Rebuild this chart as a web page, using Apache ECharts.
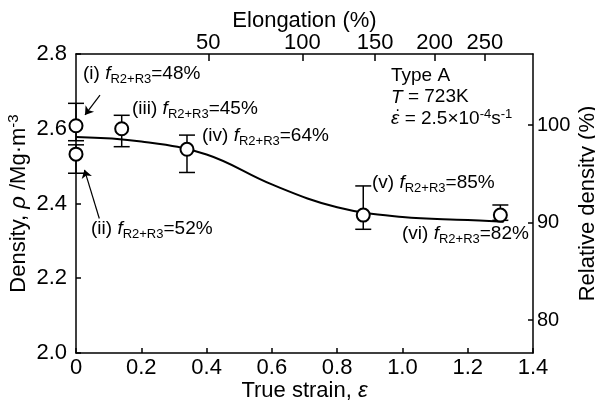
<!DOCTYPE html>
<html>
<head>
<meta charset="utf-8">
<script src="https://cdn.jsdelivr.net/npm/echarts@6/dist/echarts.min.js"></script>
<style>
  html, body { margin: 0; padding: 0; background: #fff; }
  #main { width: 595px; height: 402px; }
</style>
</head>
<body>
<div id="main"></div>
<script>
// 数据
const strain = [0, 0, 0.14, 0.34, 0.88, 1.30];           // 真应变
const density = [2.608, 2.532, 2.600, 2.545, 2.369, 2.369]; // 密度
const errLow = [2.568, 2.481, 2.552, 2.483, 2.331, 2.355];
const errHigh = [2.668, 2.557, 2.636, 2.583, 2.447, 2.396];

// 拟合曲线
const curveStrain = [0, 0.2, 0.4, 0.6, 0.8, 1.0, 1.2, 1.31];
const curveDensity = [2.578, 2.566, 2.531, 2.451, 2.390, 2.364, 2.356, 2.351];

// 刻度
const elongationTicks = [50, 100, 150, 200, 250];
const relDensityTicks = [80, 90, 100];
const rho0 = 2.61; // 100% 对应的密度

const font = 'Liberation Sans, Arial, sans-serif';

var chart = echarts.init(document.getElementById('main'));

const axisLine = { show: true, onZero: false, lineStyle: { color: '#000', width: 1.5 } };
const tick = { show: true, inside: true, length: 5, lineStyle: { color: '#000', width: 1.5 } };
const tickLabel = { color: '#000', fontSize: 22, fontFamily: font };
const rich = {
  it: { fontStyle: 'italic', fontSize: 19, fontFamily: font, color: '#000' },
  sub: { fontSize: 13, fontFamily: font, color: '#000', verticalAlign: 'bottom', padding: [12, 0, 0, 0] },
  sup: { fontSize: 13, fontFamily: font, color: '#000', verticalAlign: 'top', padding: [0, 0, 10, 0] }
};

// 注释文字
function note(left, top, text) {
  return {
    type: 'text', left: left, top: top, z: 100,
    style: { text: text, fontSize: 19, fontFamily: font, fill: '#000', rich: rich }
  };
}

const option = {
  animation: false,
  backgroundColor: '#fff',
  grid: { left: 76, right: 62, top: 54, bottom: 49, outerBoundsMode: 'none' },
  xAxis: [
    {
      type: 'value', position: 'bottom', min: 0, max: 1.4, interval: 0.2,
      name: 'True strain, {it|ε}', nameLocation: 'middle', nameGap: 27, nameMoveOverlap: false,
      nameTextStyle: { color: '#000', fontSize: 22, fontFamily: font,
        rich: { it: { fontStyle: 'italic', fontSize: 22, fontFamily: font, color: '#000' } } },
      axisLine: axisLine, axisTick: tick, splitLine: { show: false },
      axisLabel: Object.assign({}, tickLabel, {
        margin: 4,
        formatter: v => (v === 0 ? '0' : v.toFixed(1))
      })
    },
    {
      type: 'value', position: 'top', min: 0, max: 1.4,
      name: 'Elongation (%)', nameLocation: 'middle', nameGap: 22, nameMoveOverlap: false,
      nameTextStyle: { color: '#000', fontSize: 22, fontFamily: font },
      axisLine: axisLine, splitLine: { show: false },
      axisTick: Object.assign({}, tick, { length: 7, customValues: elongationTicks.map(e => Math.log(1 + e / 100)) }),
      axisLabel: Object.assign({}, tickLabel, {
        margin: 0,
        customValues: elongationTicks.map(e => Math.log(1 + e / 100)),
        formatter: v => String(Math.round((Math.exp(v) - 1) * 100))
      })
    }
  ],
  yAxis: [
    {
      type: 'value', position: 'left', min: 2.0, max: 2.8, interval: 0.2,
      name: 'Density, {it|ρ} /Mg·m{sup|-3}', nameLocation: 'middle', nameGap: 45, nameRotate: 90,
      nameMoveOverlap: false,
      nameTextStyle: { color: '#000', fontSize: 22, fontFamily: font,
        rich: {
          it: { fontStyle: 'italic', fontSize: 22, fontFamily: font, color: '#000' },
          sup: { fontSize: 15, fontFamily: font, color: '#000', verticalAlign: 'top', padding: [0, 0, 10, 0] }
        } },
      axisLine: axisLine, axisTick: tick, splitLine: { show: false },
      axisLabel: Object.assign({}, tickLabel, { margin: 9, formatter: v => v.toFixed(1) })
    },
    {
      type: 'value', position: 'right', min: 2.0 / rho0 * 100, max: 2.8 / rho0 * 100,
      name: 'Relative density (%)', nameLocation: 'middle', nameGap: 44, nameRotate: 90,
      nameMoveOverlap: false,
      nameTextStyle: { color: '#000', fontSize: 22, fontFamily: font },
      axisLine: axisLine, splitLine: { show: false },
      axisTick: Object.assign({}, tick, { customValues: relDensityTicks }),
      axisLabel: Object.assign({}, tickLabel, { fontSize: 20, margin: 4, customValues: relDensityTicks })
    }
  ],
  series: [
    {
      name: 'fit', type: 'line', xAxisIndex: 0, yAxisIndex: 0, z: 1,
      data: curveStrain.map((x, i) => [x, curveDensity[i]]),
      smooth: 0.4, showSymbol: false, symbol: 'none',
      lineStyle: { color: '#000', width: 2 }
    },
    {
      name: 'error', type: 'custom', xAxisIndex: 0, yAxisIndex: 0, z: 2,
      data: strain.map((x, i) => [x, errLow[i], errHigh[i]]),
      encode: { x: 0, y: [1, 2] },
      renderItem: function (params, api) {
        const lo = api.coord([api.value(0), api.value(1)]);
        const hi = api.coord([api.value(0), api.value(2)]);
        const w = 8;
        const st = { stroke: '#000', lineWidth: 1.5 };
        return {
          type: 'group',
          children: [
            { type: 'line', shape: { x1: lo[0], y1: lo[1], x2: hi[0], y2: hi[1] }, style: st },
            { type: 'line', shape: { x1: lo[0] - w, y1: lo[1], x2: lo[0] + w, y2: lo[1] }, style: st },
            { type: 'line', shape: { x1: hi[0] - w, y1: hi[1], x2: hi[0] + w, y2: hi[1] }, style: st }
          ]
        };
      }
    },
    {
      name: 'density', type: 'scatter', xAxisIndex: 0, yAxisIndex: 0, z: 3, clip: false,
      data: strain.map((x, i) => [x, density[i]]),
      symbol: 'circle', symbolSize: 13,
      itemStyle: { color: '#fff', opacity: 1, borderColor: '#000', borderWidth: 2 },
      markLine: {
        silent: true, symbolSize: 8,
        label: { show: false },
        lineStyle: { color: '#000', width: 1.2, type: 'solid' },
        data: [
          [{ coord: [0.0735, 2.690], symbol: 'none' }, { coord: [0.0276, 2.637], symbol: 'arrow' }],
          [{ coord: [0.0714, 2.360], symbol: 'none' }, { coord: [0.026, 2.490], symbol: 'arrow' }]
        ]
      }
    }
  ],
  graphic: [
    note(83, 64, '(i) {it|f}{sub|R2+R3}=48%'),
    note(132, 99, '(iii) {it|f}{sub|R2+R3}=45%'),
    note(202, 126, '(iv) {it|f}{sub|R2+R3}=64%'),
    note(372, 173, '(v) {it|f}{sub|R2+R3}=85%'),
    note(402, 224, '(vi) {it|f}{sub|R2+R3}=82%'),
    note(91, 219, '(ii) {it|f}{sub|R2+R3}=52%'),
    {
      type: 'text', left: 391, top: 65, z: 100,
      style: {
        text: 'Type A\n{it|T} = 723K\n{it|ε} = 2.5×10{sup|-4}s{sup|-1}',
        fontSize: 19, fontFamily: font, fill: '#000', lineHeight: 21.5, rich: rich
      }
    },
    {
      type: 'text', left: 395, top: 103, z: 100,
      style: { text: '·', fontSize: 16, fontFamily: font, fill: '#000' }
    }
  ]
};

chart.setOption(option);
</script>
</body>
</html>
